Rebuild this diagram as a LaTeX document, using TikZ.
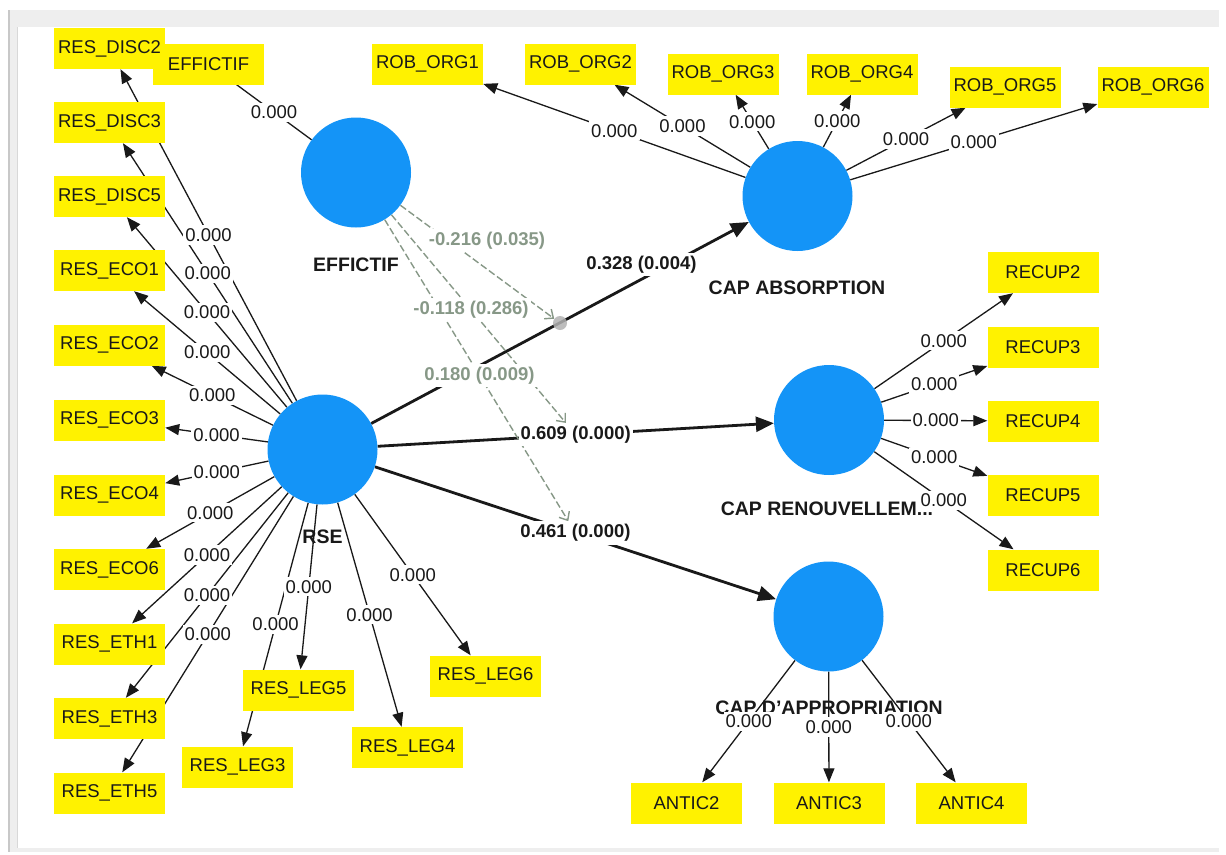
\documentclass[tikz,border=0pt]{standalone}
\usepackage{fontspec}
\setmainfont{Liberation Sans}
\usetikzlibrary{arrows.meta}
\pgfdeclarelayer{bg}
\pgfdeclarelayer{fg}
\pgfsetlayers{bg,main,fg}
\definecolor{lvblue}{RGB}{20,148,247}
\definecolor{modc}{RGB}{135,152,135}
\definecolor{framegrey}{RGB}{238,238,238}
\definecolor{edgegrey}{RGB}{200,200,200}
\definecolor{txt}{RGB}{25,25,25}
\newcommand\fsz{\fontsize{18.5}{22}\selectfont}
\newcommand\fszb{\fontsize{19.5}{23}\selectfont}
\begin{document}
\begin{tikzpicture}[x=1pt,y=-1pt,
  ind/.style={rectangle, fill=yellow, minimum width=111pt, minimum height=41pt, inner sep=0pt, font=\fsz, text=txt},
  lv/.style={circle, fill=lvblue, minimum size=110pt, inner sep=0pt},
  lvname/.style={font=\fszb\bfseries, text=txt},
  load/.style={line width=1.3pt, txt, -{Triangle[length=14pt,width=11pt]}},
  plainln/.style={line width=1.3pt, txt},
  innerpath/.style={line width=2.8pt, txt, -{Triangle[length=18pt,width=15pt]}},
  modline/.style={modc, line width=1.4pt, dash pattern=on 7pt off 3pt, -{Straight Barb[length=7pt,width=12pt]}},
  lab/.style={fill=white, inner xsep=2pt, inner ysep=3pt, font=\fsz, text=txt},
  plab/.style={lab, font=\fsz\bfseries},
  mlab/.style={plab, text=modc},
]
\useasboundingbox (0,0) rectangle (1226,854);
\begin{pgfonlayer}{bg}
  \fill[white] (0,0) rectangle (1226,854);
  \fill[framegrey] (8,10) rectangle (1219,27);
  \fill[framegrey] (8,10) rectangle (17,852);
  \fill[framegrey] (8,848) rectangle (1219,852);
  \draw[edgegrey, line width=2pt] (9,10) -- (9,852);
  \draw[edgegrey!70, line width=1pt] (17,27) -- (17,848);
\end{pgfonlayer}

% latent variables
\node[lv] (effc) at (356,172.5) {};
\node[lv] (rse)  at (322.5,449.5) {};
\node[lv] (abs)  at (797.5,196) {};
\node[lv] (ren)  at (829,420) {};
\node[lv] (app)  at (828.5,616.5) {};

\node[lvname] (effcname) at (356,264.5) {EFFICTIF};
\node[lvname] (rsename)  at (322.5,537) {RSE};
\node[lvname] (absname)  at (797,288) {CAP ABSORPTION};
\node[lvname] (renname)  at (827,509) {CAP RENOUVELLEM...};
\node[lvname] (appname)  at (829,707.5) {CAP D'APPROPRIATION};

% indicators
\node[ind] (effb)  at (208.5,64) {EFFICTIF};
\node[ind] (disc2) at (109.5,48.5) {RES\_DISC2};
\node[ind] (disc3) at (109.5,122.5) {RES\_DISC3};
\node[ind] (disc5) at (109.5,196.5) {RES\_DISC5};
\node[ind] (eco1)  at (109.5,270.5) {RES\_ECO1};
\node[ind] (eco2)  at (109.5,345) {RES\_ECO2};
\node[ind] (eco3)  at (109.5,420) {RES\_ECO3};
\node[ind] (eco4)  at (109.5,495) {RES\_ECO4};
\node[ind] (eco6)  at (109.5,569.5) {RES\_ECO6};
\node[ind] (eth1)  at (109.5,644) {RES\_ETH1};
\node[ind] (eth3)  at (109.5,718.5) {RES\_ETH3};
\node[ind] (eth5)  at (109.5,793) {RES\_ETH5};
\node[ind] (leg5)  at (298.5,690) {RES\_LEG5};
\node[ind] (leg3)  at (237.5,767) {RES\_LEG3};
\node[ind] (leg4)  at (407.5,747.5) {RES\_LEG4};
\node[ind] (leg6)  at (485.5,676) {RES\_LEG6};
\node[ind] (org1)  at (427.5,64) {ROB\_ORG1};
\node[ind] (org2)  at (580.5,64) {ROB\_ORG2};
\node[ind] (org3)  at (723,74) {ROB\_ORG3};
\node[ind] (org4)  at (862,74) {ROB\_ORG4};
\node[ind] (org5)  at (1005,87) {ROB\_ORG5};
\node[ind] (org6)  at (1153,87) {ROB\_ORG6};
\node[ind] (rec2)  at (1043,272.5) {RECUP2};
\node[ind] (rec3)  at (1043,347) {RECUP3};
\node[ind] (rec4)  at (1043,421) {RECUP4};
\node[ind] (rec5)  at (1043,495.5) {RECUP5};
\node[ind] (rec6)  at (1043,570) {RECUP6};
\node[ind] (ant2)  at (686.5,803) {ANTIC2};
\node[ind] (ant3)  at (829,803) {ANTIC3};
\node[ind] (ant4)  at (971.5,803) {ANTIC4};

% moderator point
\node[circle, fill=black!30, opacity=0.85, minimum size=14pt, inner sep=0pt] (dot) at (560,323) {};

% labels (foreground)
\begin{pgfonlayer}{fg}
  \foreach \a/\b in {rse/disc2,rse/disc3,rse/disc5,rse/eco1,rse/eco2,rse/eco3,rse/eco4,rse/eco6,rse/eth1,rse/eth3,rse/eth5,rse/leg3,rse/leg4,rse/leg5,rse/leg6,abs/org1,abs/org2,abs/org3,abs/org4,abs/org5,abs/org6,ren/rec2,ren/rec3,ren/rec4,ren/rec5,ren/rec6,app/ant2,app/ant3,app/ant4,effb/effc}
    \path (\a) -- node[lab] {0.000} (\b);
  \path (rse) -- node[plab] (l609) {0.609 (0.000)} (ren);
  \path (rse) -- node[plab] (l461) {0.461 (0.000)} (app);
  \node[plab] (l328) at (641.5,264.5) {0.328 (0.004)};
  \node[mlab] (m216) at (487,240.5) {-0.216 (0.035)};
  \node[mlab] (m118) at (471,309.5) {-0.118 (0.286)};
  \node[mlab] (m180) at (479.5,375.5) {0.180 (0.009)};
\end{pgfonlayer}

% connectors (background)
\begin{pgfonlayer}{bg}
  \foreach \a/\b in {rse/disc2,rse/disc3,rse/disc5,rse/eco1,rse/eco2,rse/eco3,rse/eco4,rse/eco6,rse/eth1,rse/eth3,rse/eth5,rse/leg3,rse/leg4,rse/leg5,rse/leg6,abs/org1,abs/org2,abs/org3,abs/org4,abs/org5,abs/org6,ren/rec2,ren/rec3,ren/rec4,ren/rec5,ren/rec6,app/ant2,app/ant3,app/ant4}
    \draw[load] (\a) -- (\b);
  \draw[plainln] (effb) -- (effc);
  \draw[innerpath] (rse) -- (abs);
  \draw[innerpath] (rse) -- (ren);
  \draw[innerpath] (rse) -- (app);
  \draw[modline] (effc) -- (dot);
  \draw[modline] (effc) -- (l609);
  \draw[modline] (effc) -- (l461);
\end{pgfonlayer}
\end{tikzpicture}
\end{document}
